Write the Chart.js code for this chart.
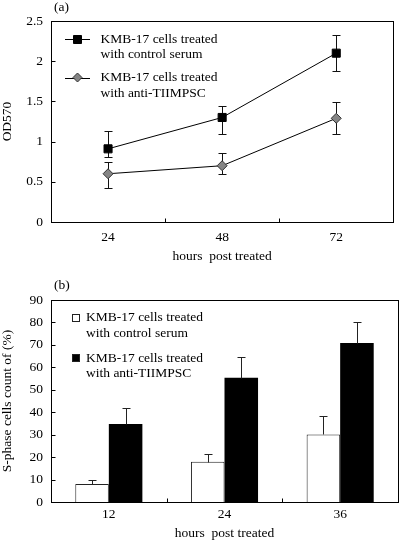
<!DOCTYPE html>
<html><head><meta charset="utf-8">
<script src="https://cdn.jsdelivr.net/npm/chart.js@4/dist/chart.umd.min.js"></script>
<style>html,body{margin:0;padding:0;background:#fff;}.box{position:relative;width:400px;height:270px;}canvas{display:block;}</style>
</head><body>
<div class="box"><canvas id="ca" width="400" height="270"></canvas></div>
<div class="box"><canvas id="cb" width="400" height="270"></canvas></div>
<script>
// ---- Panel (a) data ----
const hoursA = ['24', '48', '72'];
const controlA = [0.91, 1.30, 2.10];
const controlHiA = [1.13, 1.44, 2.33];
const controlLoA = [0.81, 1.09, 1.88];
const antiA = [0.60, 0.70, 1.29];
const antiHiA = [0.75, 0.86, 1.49];
const antiLoA = [0.42, 0.60, 1.09];
const yTicksA = ['0', '0.5', '1', '1.5', '2', '2.5'];
const legendA = [['KMB-17 cells treated', 'with control serum'], ['KMB-17 cells treated', 'with anti-TIIMPSC']];

// ---- Panel (b) data ----
const hoursB = ['12', '24', '36'];
const controlB = [8, 17.9, 30.1];
const controlHiB = [9.9, 21.6, 38.1];
const antiB = [34.8, 55.4, 70.8];
const antiHiB = [41.9, 64.6, 80.1];
const yTicksB = ['0', '10', '20', '30', '40', '50', '60', '70', '80', '90'];
const legendB = [['KMB-17 cells treated', 'with control serum'], ['KMB-17 cells treated', 'with anti-TIIMPSC']];

const FONT = "'Liberation Serif', 'Times New Roman', serif";
const FS = 13.5;
Chart.defaults.font.family = FONT;
Chart.defaults.font.size = FS;
Chart.defaults.color = '#000';

function px(v) { return Math.round(v) + 0.5; }

const framePlugin = {
  id: 'frame',
  afterDraw(chart, args, opts) {
    const { ctx, chartArea: a, scales } = chart;
    const x = scales.x, y = scales.y;
    ctx.save();
    ctx.strokeStyle = '#000';
    ctx.lineWidth = 1;
    const L = px(a.left), R = px(a.right), T = px(a.top), B = px(a.bottom);
    ctx.strokeRect(L, T, R - L, B - T);
    ctx.beginPath();
    y.ticks.forEach(t => {
      const py = px(y.getPixelForValue(t.value));
      ctx.moveTo(L, py); ctx.lineTo(L + 4, py);
    });
    for (let i = 1; i < x.ticks.length; i++) {
      const bx = px((x.getPixelForTick(i - 1) + x.getPixelForTick(i)) / 2);
      ctx.moveTo(bx, B); ctx.lineTo(bx, B - 4);
    }
    ctx.stroke();
    // panel letter
    ctx.fillStyle = '#000';
    ctx.font = FS + 'px ' + FONT;
    ctx.textBaseline = 'middle';
    ctx.textAlign = 'left';
    ctx.fillText(opts.letter, 54, opts.letterY);
    ctx.restore();
  }
};

// error bars for line chart (drawn beneath markers)
const lineErrPlugin = {
  id: 'lineErr',
  beforeDatasetsDraw(chart) {
    const { ctx, scales: { y } } = chart;
    const sets = [[controlHiA, controlLoA], [antiHiA, antiLoA]];
    ctx.save();
    ctx.strokeStyle = '#111';
    ctx.lineWidth = 1;
    ctx.beginPath();
    sets.forEach((s, di) => {
      const meta = chart.getDatasetMeta(di);
      meta.data.forEach((pt, i) => {
        const cx = px(pt.x);
        const yh = px(y.getPixelForValue(s[0][i]));
        const yl = px(y.getPixelForValue(s[1][i]));
        ctx.moveTo(cx, yh); ctx.lineTo(cx, yl);
        ctx.moveTo(cx - 4, yh); ctx.lineTo(cx + 4, yh);
        ctx.moveTo(cx - 4, yl); ctx.lineTo(cx + 4, yl);
      });
    });
    ctx.stroke();
    ctx.restore();
  },
  afterDraw(chart) {
    // legend
    const { ctx, chartArea: a } = chart;
    ctx.save();
    ctx.font = FS + 'px ' + FONT;
    ctx.fillStyle = '#000';
    ctx.textBaseline = 'middle';
    ctx.textAlign = 'left';
    legendA.forEach((lines, k) => {
      const y0 = a.top + 18 + k * 38.5;
      const ds = chart.data.datasets[k];
      ctx.strokeStyle = '#000'; ctx.lineWidth = 1;
      ctx.beginPath(); ctx.moveTo(65, px(y0)); ctx.lineTo(90, px(y0)); ctx.stroke();
      ctx.fillStyle = ds.pointBackgroundColor;
      ctx.strokeStyle = ds.pointBorderColor;
      ctx.beginPath();
      if (k === 0) {
        ctx.rect(73.5, y0 - 3.5, 8, 8);
      } else {
        ctx.moveTo(77.5, y0 - 4.5); ctx.lineTo(82, y0); ctx.lineTo(77.5, y0 + 4.5); ctx.lineTo(73, y0); ctx.closePath();
      }
      ctx.fill(); ctx.stroke();
      ctx.fillStyle = '#000';
      lines.forEach((t, j) => ctx.fillText(t, 100.5, y0 + j * 15.5));
    });
    ctx.restore();
  }
};

const barErrPlugin = {
  id: 'barErr',
  afterDatasetsDraw(chart) {
    const { ctx, scales: { y } } = chart;
    const sets = [controlHiB, antiHiB];
    ctx.save();
    ctx.strokeStyle = '#222';
    ctx.lineWidth = 1;
    ctx.beginPath();
    sets.forEach((s, di) => {
      const meta = chart.getDatasetMeta(di);
      meta.data.forEach((bar, i) => {
        const cx = px(bar.x);
        const yt = px(bar.y);
        const yh = px(y.getPixelForValue(s[i]));
        ctx.moveTo(cx, yt); ctx.lineTo(cx, yh);
        ctx.moveTo(cx - 4, yh); ctx.lineTo(cx + 4, yh);
      });
    });
    ctx.stroke();
    ctx.restore();
  },
  afterDraw(chart) {
    const { ctx, chartArea: a } = chart;
    ctx.save();
    ctx.font = FS + 'px ' + FONT;
    ctx.textBaseline = 'middle';
    ctx.textAlign = 'left';
    legendB.forEach((lines, k) => {
      const y0 = a.top + 17.7 + k * 40.5;
      const ds = chart.data.datasets[k];
      ctx.fillStyle = ds.backgroundColor;
      ctx.strokeStyle = '#222'; ctx.lineWidth = 1;
      ctx.fillRect(72, Math.round(y0 - 4), 8, 8);
      ctx.strokeRect(72.5, Math.round(y0 - 4) + 0.5, 7, 7);
      ctx.fillStyle = '#000';
      lines.forEach((t, j) => ctx.fillText(t, 86, y0 + j * 15.5));
    });
    ctx.restore();
  }
};

function axes(xLabels, yLabels, ymax, step, yTitle, xHeight, xPad, xTitlePad) {
  return {
    x: {
      type: 'category', labels: xLabels, offset: true,
      grid: { display: false, drawTicks: false },
      border: { display: false },
      ticks: { padding: xPad, font: { size: FS } },
      title: { display: true, text: 'hours  post treated', font: { size: FS, lineHeight: 1 }, padding: { top: 0, bottom: xTitlePad } },
      afterFit(s) { s.height = xHeight; }
    },
    y: {
      min: 0, max: ymax,
      grid: { display: false, drawTicks: false },
      border: { display: false },
      ticks: { stepSize: step, padding: 8, font: { size: FS }, callback: (v, i) => yLabels[i] },
      title: { display: true, text: yTitle, font: { size: FS, lineHeight: 1 }, padding: { top: 1, bottom: 0 } },
      afterFit(s) { s.width = 51; }
    }
  };
}

new Chart(document.getElementById('ca'), {
  type: 'line',
  data: {
    labels: hoursA,
    datasets: [
      { label: legendA[0].join(' '), data: controlA, borderColor: '#000', borderWidth: 1, pointStyle: 'rect', pointRadius: 5.7, pointBackgroundColor: '#000', pointBorderColor: '#000', pointBorderWidth: 1, fill: false, tension: 0 },
      { label: legendA[1].join(' '), data: antiA, borderColor: '#000', borderWidth: 1, pointStyle: 'rectRot', pointRadius: 5, pointBackgroundColor: '#858585', pointBorderColor: '#333', pointBorderWidth: 1, fill: false, tension: 0 }
    ]
  },
  options: {
    responsive: false, animation: false,
    layout: { padding: { top: 21, right: 2, left: 0, bottom: 0 } },
    plugins: { legend: { display: false }, tooltip: { enabled: false }, frame: { letter: '(a)', letterY: 7 } },
    scales: axes(hoursA, yTicksA, 2.5, 0.5, 'OD570', 48, 7, 7)
  },
  plugins: [framePlugin, lineErrPlugin]
});

new Chart(document.getElementById('cb'), {
  type: 'bar',
  data: {
    labels: hoursB,
    datasets: [
      { label: legendB[0].join(' '), data: controlB, backgroundColor: '#fff', borderColor: '#222', borderWidth: 1, categoryPercentage: 0.58, barPercentage: 1 },
      { label: legendB[1].join(' '), data: antiB, backgroundColor: '#000', borderColor: '#000', borderWidth: 0, categoryPercentage: 0.58, barPercentage: 1 }
    ]
  },
  options: {
    responsive: false, animation: false,
    layout: { padding: { top: 30, right: 2, left: 0, bottom: 0 } },
    plugins: { legend: { display: false }, tooltip: { enabled: false }, frame: { letter: '(b)', letterY: 15 } },
    scales: axes(hoursB, yTicksB, 90, 10, 'S-phase cells count of (%)', 38, 4, 0)
  },
  plugins: [framePlugin, barErrPlugin]
});
</script>
</body></html>
